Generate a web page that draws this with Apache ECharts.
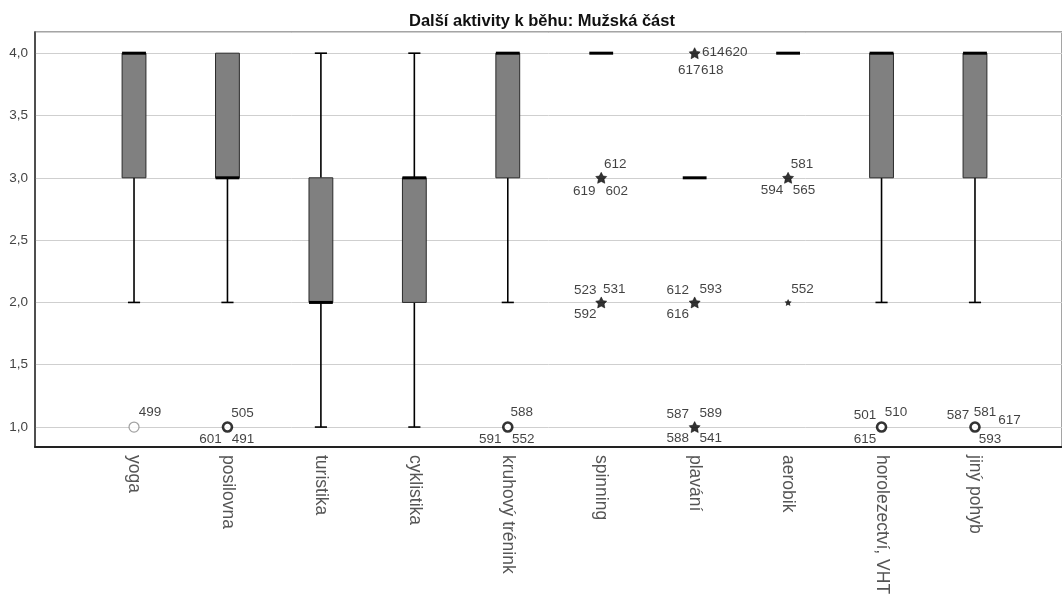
<!DOCTYPE html>
<html>
<head>
<meta charset="utf-8">
<title>Další aktivity k běhu: Mužská část</title>
<script src="https://cdn.jsdelivr.net/npm/echarts@6/dist/echarts.min.js"></script>
<style>
  html, body { margin: 0; padding: 0; background: #ffffff; }
  #chart { width: 1062px; height: 601px; }
</style>
</head>
<body>
<div id="chart"></div>
<script>
// Activities (categories on the x axis)
const categories = ['yoga', 'posilovna', 'turistika', 'cyklistika', 'kruhový trénink',
  'spinning', 'plavání', 'aerobik', 'horolezectví, VHT', 'jiný pohyb'];

// Five-number summaries per activity
const whiskerLow  = [2, 2, 1, 1, 2, 4, 3, 4, 2, 2];
const quartile1   = [3, 3, 2, 2, 3, 4, 3, 4, 3, 3];
const medians     = [4, 3, 2, 3, 4, 4, 3, 4, 4, 4];
const quartile3   = [4, 4, 3, 3, 4, 4, 3, 4, 4, 4];
const whiskerHigh = [4, 4, 4, 4, 4, 4, 3, 4, 4, 4];

// Outliers ('o') and extremes ('*'), with the case numbers at each point
const outlierCategory = [0, 1, 4, 5, 5, 6, 6, 6, 7, 7, 8, 9];
const outlierValue    = [1, 1, 1, 3, 2, 4, 2, 1, 3, 2, 1, 1];
const outlierKind     = ['o', 'o', 'o', '*', '*', '*', '*', '*', '*', '*', 'o', 'o'];
const outlierCases = [
  [499], [505, 601, 491], [588, 591, 552], [612, 619, 602], [523, 531, 592],
  [614, 620, 617, 618], [612, 593, 616], [587, 589, 588, 541], [581, 594, 565],
  [552], [501, 510, 615], [587, 581, 617, 593]
];

// Y axis range and label placement around each point (px)
const yMin = 0.84, yMax = 4.17;
const caseLabelOffsets = [
  [[16, -15]],
  [[15, -14], [-17, 12], [15.5, 12]],
  [[14, -15], [-17.5, 12], [15.5, 12]],
  [[14, -14], [-17, 13], [15.5, 13]],
  [[-16, -12], [13, -13.5], [-16, 12]],
  [[18.5, -1], [41.5, -1], [-5.5, 17.5], [17.5, 17.5]],
  [[-17, -12], [16, -13.5], [-17, 12]],
  [[-17, -12.5], [16, -13.5], [-17, 11], [16, 11]],
  [[14, -13.5], [-16, 12.5], [16, 12.5]],
  [[14.5, -13.5]],
  [[-16.5, -11.5], [14.5, -15], [-16.5, 12]],
  [[-17, -11.5], [10, -15], [34.5, -6.5], [15, 12]]
];

const FONT = "'Liberation Sans', Arial, sans-serif";
const STAR = 'path://M0,-10L3.3,-3.9L9.5,-3.1L5,1.6L6.2,8.1L0,5.1L-6.2,8.1L-5,1.6L-9.5,-3.1L-3.3,-3.9Z';

const boxData = categories.map((c, i) =>
  [i, whiskerLow[i], quartile1[i], medians[i], quartile3[i], whiskerHigh[i]]);

const markerData = outlierCategory.map((c, i) => {
  const single = outlierCases[i].length === 1;
  const star = outlierKind[i] === '*';
  return {
    value: [c, outlierValue[i]],
    symbol: star ? STAR : 'circle',
    symbolSize: star ? (single ? 7 : 11) : (single ? 10 : 9),
    itemStyle: star
      ? { color: '#000', borderColor: '#000', borderWidth: single ? 0 : 0.6 }
      : { color: '#fff', borderColor: single ? '#8a8a8a' : '#000', borderWidth: single ? 1.2 : 2.6 }
  };
});

const caseLabelData = [];
outlierCases.forEach((ids, i) => {
  ids.forEach((id, k) => {
    caseLabelData.push({
      value: [outlierCategory[i], outlierValue[i]],
      label: { show: true, formatter: String(id), offset: caseLabelOffsets[i][k] }
    });
  });
});

function renderBox(params, api) {
  const c = api.value(0);
  const lo = api.coord([c, api.value(1)]);
  const q1 = api.coord([c, api.value(2)]);
  const md = api.coord([c, api.value(3)]);
  const q3 = api.coord([c, api.value(4)]);
  const hi = api.coord([c, api.value(5)]);
  const x = lo[0];
  const band = api.size([1, 0])[0];
  const bw = band * 0.255;
  const cw = band * 0.13;
  const children = [];
  const line = (x1, y1, x2, y2, w, color) => ({
    type: 'line',
    shape: { x1, y1, x2, y2 },
    style: { stroke: color || '#000', lineWidth: w }
  });
  if (hi[1] < q3[1] - 0.5) {
    children.push(line(x, hi[1], x, q3[1], 1.6));
    children.push(line(x - cw / 2, hi[1], x + cw / 2, hi[1], 1.6));
  }
  if (lo[1] > q1[1] + 0.5) {
    children.push(line(x, q1[1], x, lo[1], 1.6));
    children.push(line(x - cw / 2, lo[1], x + cw / 2, lo[1], 1.6));
  }
  if (q1[1] - q3[1] > 0.5) {
    children.push({
      type: 'rect',
      shape: { x: x - bw / 2, y: q3[1], width: bw, height: q1[1] - q3[1] },
      style: { fill: '#808080', stroke: '#2a2a2a', lineWidth: 1 }
    });
  }
  children.push(line(x - bw / 2, md[1], x + bw / 2, md[1], 3));
  return { type: 'group', children };
}

const chart = echarts.init(document.getElementById('chart'), null, { renderer: 'canvas' });

const option = {
  backgroundColor: '#ffffff',
  animation: false,
  title: {
    text: 'Další aktivity k běhu: Mužská část',
    left: 404,
    top: 8,
    textStyle: { fontFamily: FONT, fontSize: 16.5, fontWeight: 'bold', color: '#111' }
  },
  grid: [
    { left: 35, right: -5, top: 32, bottom: 154, show: true, borderColor: '#888', borderWidth: 1.5 },
    { left: 87.3, width: 934.4, top: 32, bottom: 154 }
  ],
  xAxis: [
    {
      gridIndex: 0, type: 'value', min: 0, max: 1,
      axisLine: { show: true, lineStyle: { color: '#222', width: 2 } },
      axisTick: { show: false }, axisLabel: { show: false }, splitLine: { show: false }
    },
    {
      gridIndex: 1, type: 'category', data: categories, boundaryGap: true,
      axisLine: { show: false }, axisTick: { show: false }, splitLine: { show: false },
      axisLabel: {
        interval: 0, rotate: -90, margin: 8,
        fontFamily: FONT, fontSize: 17.5, color: '#555'
      }
    }
  ],
  yAxis: [
    {
      gridIndex: 0, type: 'value', min: yMin, max: yMax, splitNumber: 6,
      axisLine: { show: true, lineStyle: { color: '#333', width: 1.5 } },
      axisTick: { show: false },
      splitLine: { show: true, lineStyle: { color: '#cfcfcf', width: 1 } },
      axisLabel: {
        showMinLabel: false, showMaxLabel: false, margin: 7,
        fontFamily: FONT, fontSize: 13.5, color: '#444',
        formatter: v => Math.abs(v * 2 - Math.round(v * 2)) < 1e-6 ? v.toFixed(1).replace('.', ',') : ''
      }
    },
    {
      gridIndex: 1, type: 'value', min: yMin, max: yMax, show: false,
      splitLine: { show: false }
    }
  ],
  series: [
    {
      type: 'custom',
      xAxisIndex: 1, yAxisIndex: 1,
      renderItem: renderBox,
      data: boxData,
      z: 3
    },
    {
      type: 'scatter',
      xAxisIndex: 1, yAxisIndex: 1,
      data: markerData,
      z: 4
    },
    {
      type: 'scatter',
      xAxisIndex: 1, yAxisIndex: 1,
      symbol: 'circle',
      symbolSize: 1,
      itemStyle: { color: 'rgba(0,0,0,0)' },
      data: caseLabelData,
      label: {
        show: true, position: 'inside', align: 'center', verticalAlign: 'middle',
        fontFamily: FONT, fontSize: 13.5, color: '#111'
      },
      emphasis: { disabled: true },
      z: 5
    }
  ]
};

chart.setOption(option);
</script>
</body>
</html>
